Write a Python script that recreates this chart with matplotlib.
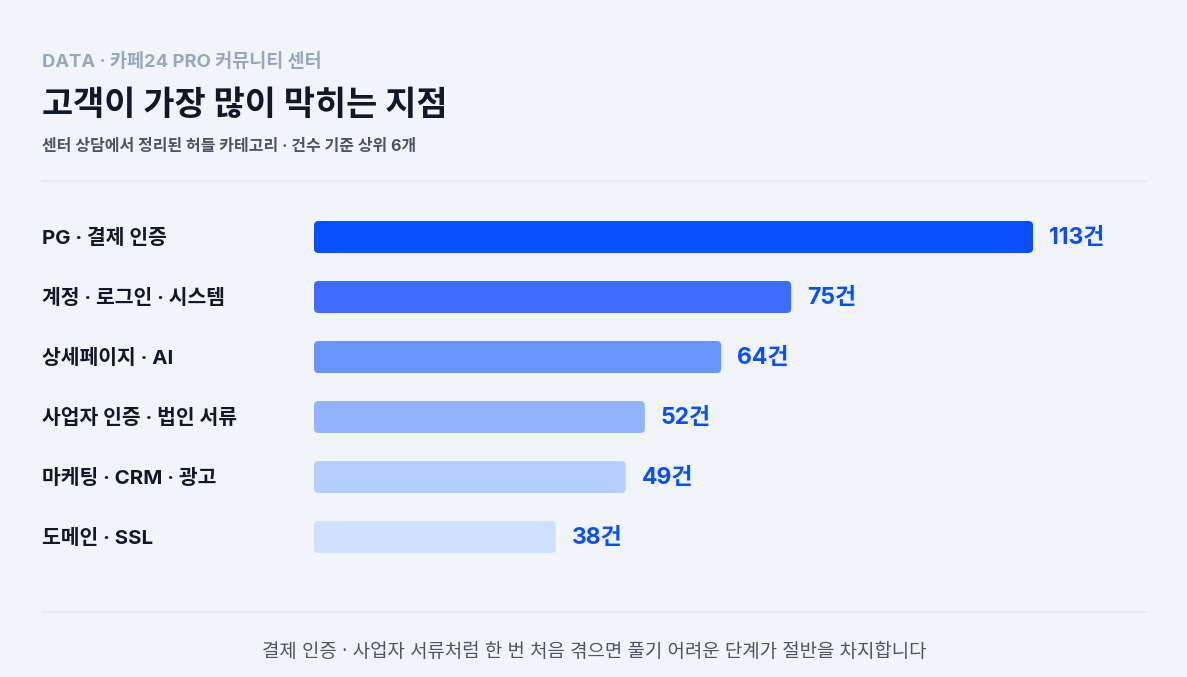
import matplotlib
matplotlib.use("Agg")
import matplotlib.pyplot as plt
from matplotlib.patches import FancyBboxPatch
from matplotlib.lines import Line2D

plt.rcParams['font.family'] = ['Inter', 'Noto Sans CJK KR', 'DejaVu Sans']

categories = ["PG · 결제 인증", "계정 · 로그인 · 시스템", "상세페이지 · AI",
              "사업자 인증 · 법인 서류", "마케팅 · CRM · 광고", "도메인 · SSL"]
values = [113, 75, 64, 52, 49, 38]
bar_colors = ["#0a4fff", "#3d6cff", "#6b93ff", "#94b4ff", "#b5cfff", "#cfe0fe"]
value_suffix = "건"

eyebrow = "DATA · 카페24 PRO 커뮤니티 센터"
title = "고객이 가장 많이 막히는 지점"
subtitle = "센터 상담에서 정리된 허들 카테고리 · 건수 기준 상위 6개"
footer = "결제 인증 · 사업자 서류처럼 한 번 처음 겪으면 풀기 어려운 단계가 절반을 차지합니다"

W, H = 1187, 677
BG = "#f1f4f9"
fig = plt.figure(figsize=(W / 100, H / 100), dpi=100)
fig.patch.set_facecolor(BG)

def fx(px):
    return px / W

def fy(py):
    return 1 - py / H

# header texts
fig.text(fx(42), fy(62), eyebrow, fontsize=13.3, fontweight='bold', color="#9aa7ba", va='center', ha='left')
fig.text(fx(42), fy(106), title, fontsize=24.4, fontweight='bold', color="#111827", va='center', ha='left')
fig.text(fx(42), fy(146), subtitle, fontsize=11.5, fontweight='bold', color="#4b5563", va='center', ha='left')
fig.add_artist(Line2D([fx(42), fx(1146)], [fy(181), fy(181)], color="#e2e7ee", lw=1.2))
fig.add_artist(Line2D([fx(42), fx(1146)], [fy(612), fy(612)], color="#e2e7ee", lw=1.2))
fig.text(fx(594), fy(652), footer, fontsize=13.6, color="#4b5563", va='center', ha='center')

# bar axes
x0, x1 = 314, 1146
y0, y1 = 207, 567
ax = fig.add_axes([fx(x0), fy(y1), (x1 - x0) / W, (y1 - y0) / H])
ax.set_facecolor('none')
px_per_unit = 719 / 113.0
xmax = (x1 - x0) / px_per_unit
ax.set_xlim(0, xmax)
n = len(values)
ax.set_ylim(n - 0.5, -0.5)
ax.axis('off')

bar_h = 32 / 60.0
r_x = 4.5 / px_per_unit
r_y = 4.5 / 60.0
for i, (v, c) in enumerate(zip(values, bar_colors)):
    p = FancyBboxPatch((0, i - bar_h / 2), v, bar_h,
                       boxstyle=f"round,pad=0,rounding_size={r_x}",
                       mutation_aspect=r_y / r_x,
                       facecolor=c, edgecolor='none')
    ax.add_patch(p)
    ax.text(v + 16 / px_per_unit, i + 0.02, f"{v}{value_suffix}", fontsize=16.5, fontweight='bold',
            color="#0a4fff", va='center', ha='left')

for i, cat in enumerate(categories):
    ax.text(-(x0 - 42) / px_per_unit, i + 0.02, cat, fontsize=14.7, fontweight='bold',
            color="#111827", va='center', ha='left', clip_on=False)

fig.savefig("out.png", dpi=100, facecolor=BG)
